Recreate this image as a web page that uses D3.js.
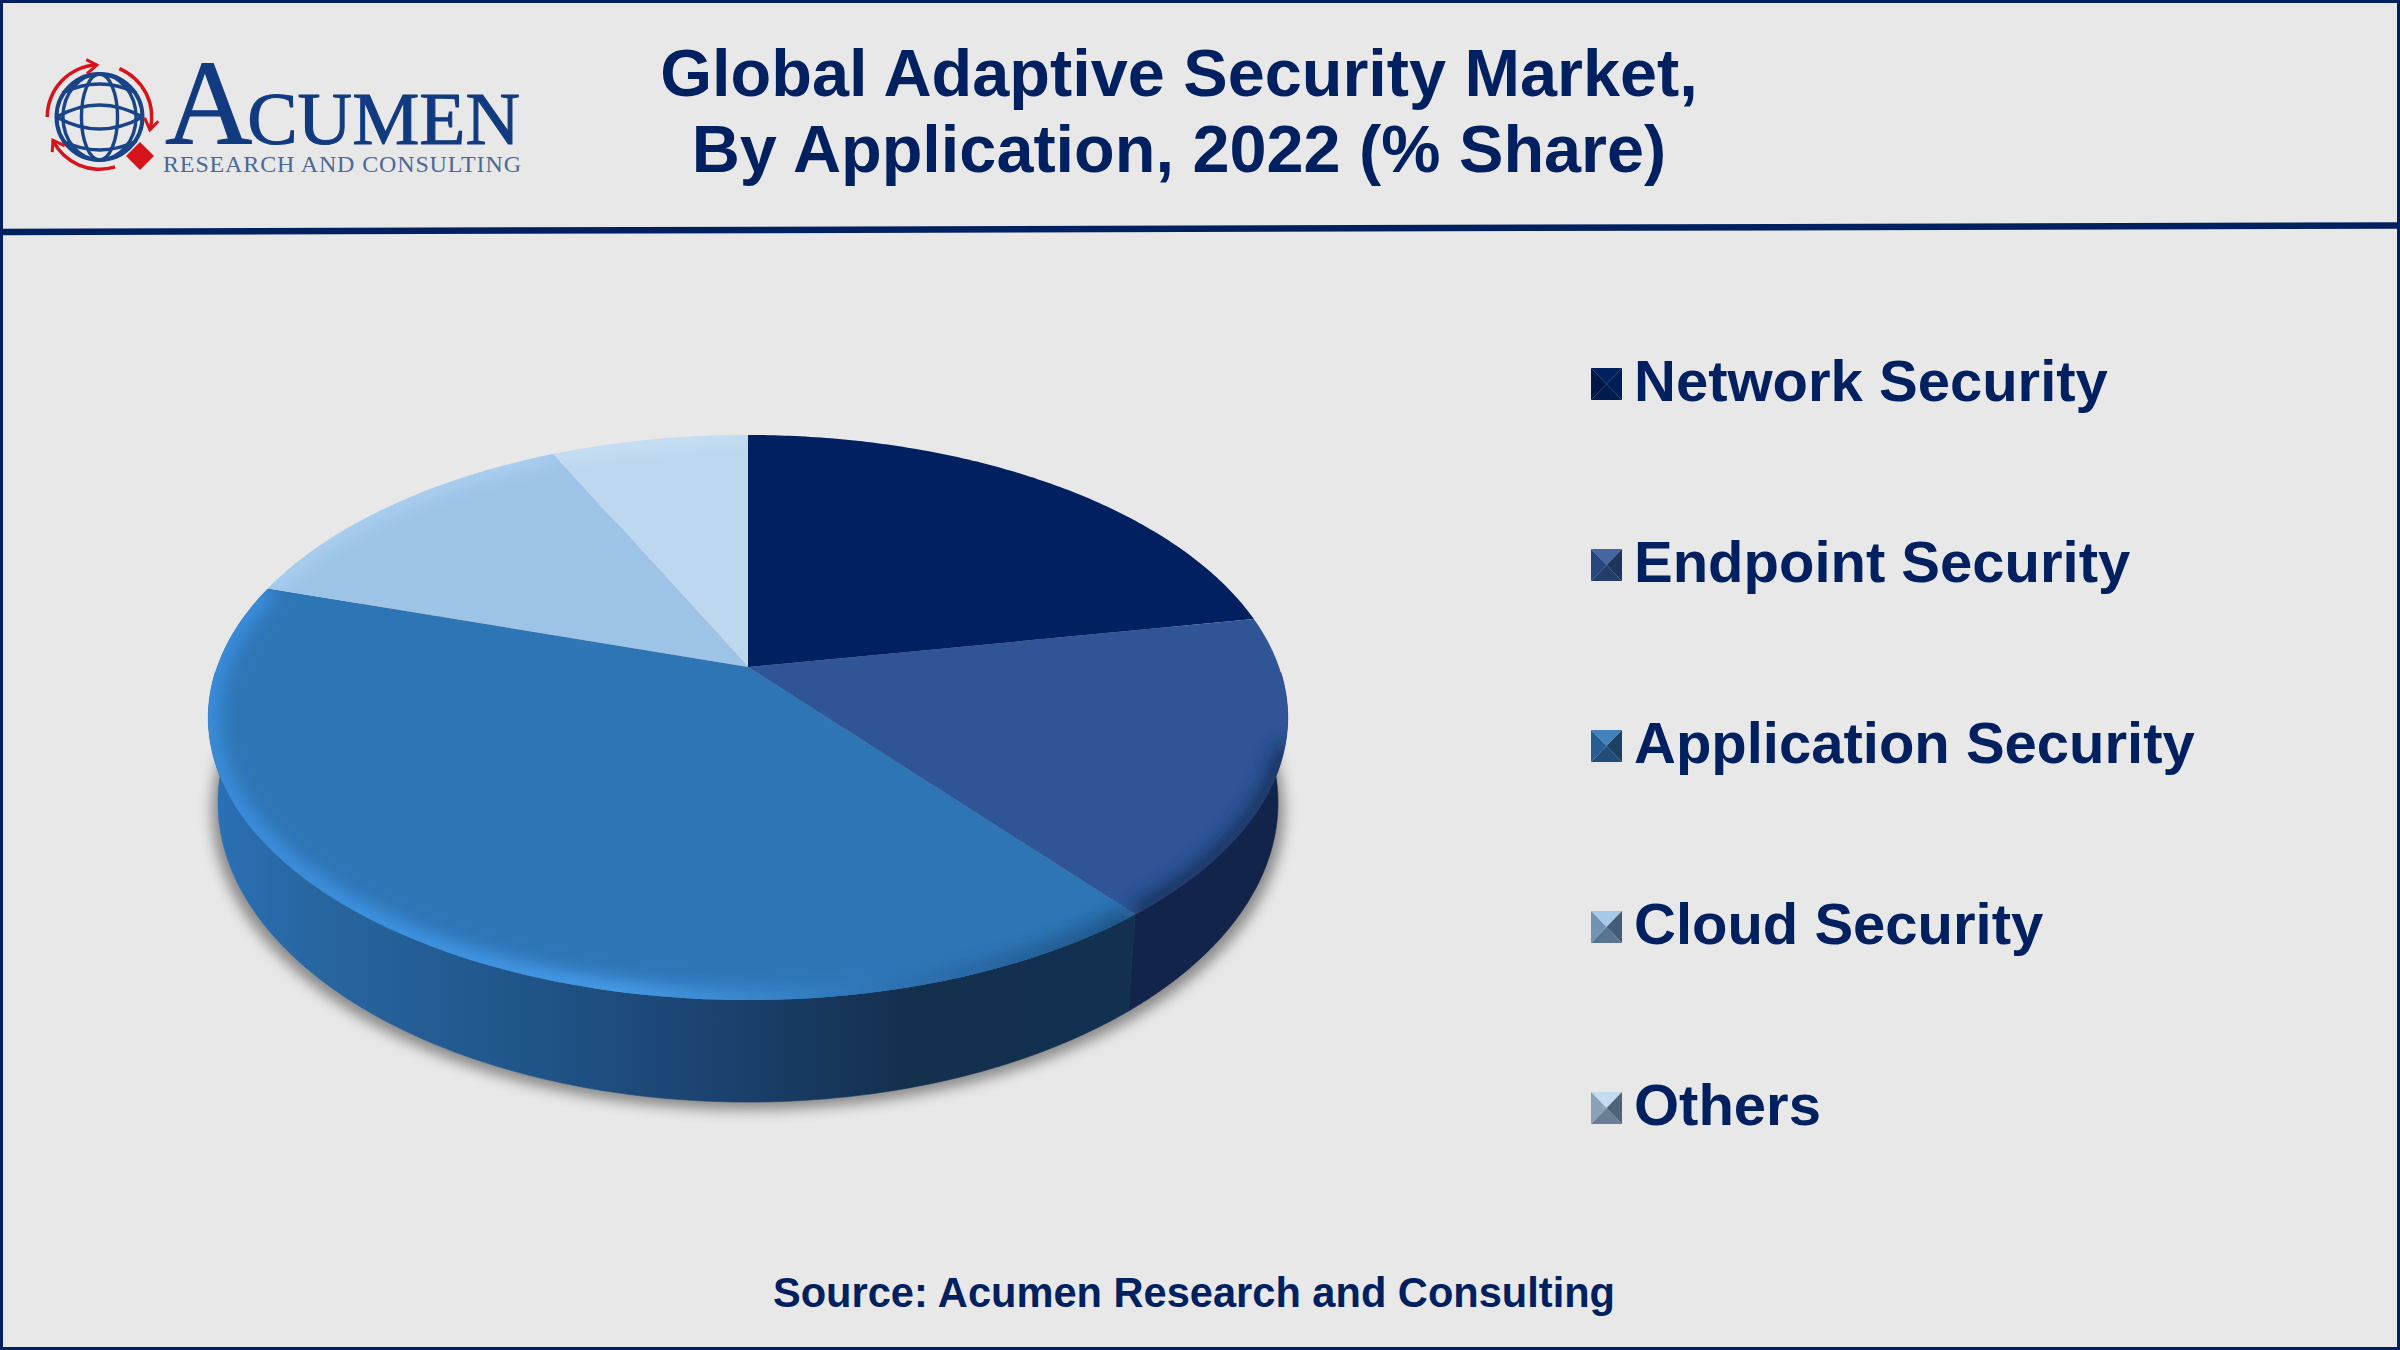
<!DOCTYPE html>
<html><head><meta charset="utf-8">
<script src="https://cdn.jsdelivr.net/npm/d3@7"></script>
<style>html,body{margin:0;padding:0;background:#e8e8e8}svg{display:block}text{font-family:"Liberation Sans",Arial,sans-serif}</style>
</head><body><svg id="c" width="2400" height="1350"></svg>
<script>
const categories = ["Network Security","Endpoint Security","Application Security","Cloud Security","Others"];
const shares = [22.1, 17.1, 40.7, 13.1, 7.0];
const titleLines = ["Global Adaptive Security Market,","By Application, 2022 (% Share)"];
const sourceText = "Source: Acumen Research and Consulting";
const topColors = ["#002060","#2f5597","#2e75b6","#9dc3e6","#bdd7ee"];
const rimColors = ["none","#16305f","#3a8fdf","#b5d8f8","#cfe5f8"];
const navy = "#002060";

const svg = d3.select("#c");
const defs = svg.append("defs");
svg.append("rect").attr("width",2400).attr("height",1350).attr("fill","#e8e8e8");

// frame + header rule
svg.append("rect").attr("x",1.5).attr("y",1.5).attr("width",2397).attr("height",1347).attr("fill","none").attr("stroke",navy).attr("stroke-width",3);
svg.append("line").attr("x1",0).attr("y1",232).attr("x2",2400).attr("y2",225.5).attr("stroke",navy).attr("stroke-width",6.5);

// perspective model of the disc
const cx=748, cy=667, R=531, A=273.5, k=0.1788, shrink=0.982, stretch=1.06, drop=42;
const topPt = t => { const u=Math.sin(t), v=-Math.cos(t), w=1-k*v; return [cx+R*u/w, cy+A*v/w]; };
const botPt = t => { const p=topPt(t); return [cx+(p[0]-cx)*shrink, p[1]*stretch+drop]; };
const line = d3.line();
const steps=(a,b)=>d3.range(0,121).map(i=>d3.interpolateNumber(a,b)(i/120));

const arcs = d3.pie().sort(null).value(d=>d)(shares);

// filters
const blur=(id,s)=>defs.append("filter").attr("id",id).attr("filterUnits","userSpaceOnUse").attr("x",0).attr("y",0).attr("width",2400).attr("height",1350).append("feGaussianBlur").attr("stdDeviation",s);
blur("bShadow",6.5); blur("bRim",9);

// shadow
svg.append("path").attr("d",line(steps(0,2*Math.PI).map(t=>{const q=botPt(t);return [cx+(q[0]-cx)*1.012,q[1]+8];}))+"Z")
  .attr("fill","#3f3f3f").attr("opacity",.55).attr("filter","url(#bShadow)");

// side walls
const sg=defs.append("linearGradient").attr("id","sideApp").attr("gradientUnits","userSpaceOnUse").attr("x1",215).attr("x2",1130).attr("y1",0).attr("y2",0);
[[0,"#2a70b5"],[.12,"#27659f"],[.35,"#205488"],[.55,"#1b426f"],[.75,"#14304f"],[1,"#12304f"]].forEach(s=>sg.append("stop").attr("offset",s[0]).attr("stop-color",s[1]));
const sideFill=["#12244a","#12244a","url(#sideApp)","#2a70b5","#2a70b5"];
const tanR=Math.PI/2+0.02, tanL=2*Math.PI-tanR; // widest points of the rim
arcs.forEach((d,i)=>{
  const a=Math.max(d.startAngle,tanR), b=Math.min(d.endAngle,tanL);
  if(b<=a) return;
  const s=steps(a,b);
  svg.append("path").attr("d",line(s.map(topPt).concat(s.slice().reverse().map(botPt)))+"Z")
    .attr("fill",sideFill[i]).attr("stroke",sideFill[i]).attr("stroke-width",.6);
});

// top slices
arcs.forEach((d,i)=>{
  const s=steps(d.startAngle,d.endAngle);
  const pts=[[cx,cy]].concat(s.map(topPt));
  const dPath=line(pts)+"Z";
  defs.append("clipPath").attr("id","clip"+i).append("path").attr("d",dPath);
  svg.append("path").attr("d",dPath).attr("fill",topColors[i]);
  const g=svg.append("g").attr("clip-path",`url(#clip${i})`);
  let stroke=rimColors[i];
  if(i===2){
    const rg=defs.append("linearGradient").attr("id","rimApp").attr("gradientUnits","userSpaceOnUse").attr("x1",215).attr("x2",1130).attr("y1",0).attr("y2",0);
    [[0,"#3a8fdf"],[.45,"#48a0ee"],[.72,"#2e75b6"],[1,"#1c4f80"]].forEach(q=>rg.append("stop").attr("offset",q[0]).attr("stop-color",q[1]));
    stroke="url(#rimApp)";
  }
  const rimArc = i===1 ? steps(Math.max(d.startAngle,1.85),d.endAngle) : s;
  g.append("path").attr("d",line(rimArc.map(topPt))).attr("fill","none").attr("stroke",stroke).attr("stroke-width",i<2?20:(i===2?22:10)).attr("filter","url(#bRim)");
});

// legend with bevelled swatches
const legendY=d3.scalePoint().domain(categories).range([384,1108]);
const lighten=(c,t)=>d3.interpolateRgb(c,"#ffffff")(t), darken=(c,t)=>d3.interpolateRgb(c,"#15243a")(t);
categories.forEach((c,i)=>{
  const y=legendY(c), x0=1591, w=31, h=32, y0=y-h/2;
  const col=topColors[i];
  const corners=[[x0,y0],[x0+w,y0],[x0+w,y0+h],[x0,y0+h]], mid=[x0+w/2,y0+h/2];
  const faces=[lighten(col,.1), darken(col,.65), darken(col,.5), darken(col,.3)];
  const gs=svg.append("g");
  corners.forEach((p,j)=>gs.append("path").attr("d",line([p,corners[(j+1)%4],mid])+"Z").attr("fill",i===0?d3.interpolateRgb(col,"#000c2a")(j/6):faces[j]));
  svg.append("text").attr("x",1634).attr("y",y+17).attr("font-size",58).attr("font-weight",700).attr("fill",navy).text(c);
});

// title + source
svg.selectAll("text.t").data(titleLines).join("text").attr("class","t").attr("x",1179).attr("y",(d,i)=>96+i*76)
  .attr("text-anchor","middle").attr("font-size",66.6).attr("font-weight",700).attr("fill",navy).text(d=>d);
svg.append("text").attr("x",1194).attr("y",1307).attr("text-anchor","middle").attr("font-size",41.6).attr("font-weight",700).attr("fill",navy).text(sourceText);

// logo
const logo=svg.append("g");
const gx=99.5, gy=117, gr=43, logoBlue="#1a4488", red="#d5141c";
const ring=logo.append("g").attr("fill","none").attr("stroke",logoBlue).attr("stroke-width",3.4);
ring.append("circle").attr("cx",gx).attr("cy",gy).attr("r",gr).attr("stroke-width",4);
[0.42,0.85].forEach(f=>ring.append("ellipse").attr("cx",gx).attr("cy",gy).attr("rx",gr*f).attr("ry",gr));
[[-1,-24],[-1,24]].forEach(q=>ring.append("path").attr("d",`M${gx-gr} ${gy} Q${gx} ${gy+q[1]} ${gx+gr} ${gy}`));
ring.append("path").attr("d",`M${gx-gr+6} ${gy-24} Q${gx} ${gy-42} ${gx+gr-6} ${gy-24}`);
ring.append("path").attr("d",`M${gx-gr+6} ${gy+24} Q${gx} ${gy+42} ${gx+gr-6} ${gy+24}`);
const redArc=d3.arc().innerRadius(50.5).outerRadius(54);
[[-1.57,-0.05],[0.39,1.82],[2.84,4.25]].forEach(a=>{
  logo.append("path").attr("transform",`translate(${gx},${gy})`).attr("fill",red).attr("d",redArc({startAngle:a[0],endAngle:a[1]}));
  const e=a[1], ex=gx+52*Math.sin(e), ey=gy-52*Math.cos(e);
  const bx=gx+52*Math.sin(e-0.2), by=gy-52*Math.cos(e-0.2);
  const nx=Math.sin(e), ny=-Math.cos(e);
  logo.append("path").attr("fill","none").attr("stroke",red).attr("stroke-width",3)
    .attr("d",line([[bx+nx*7,by+ny*7],[ex,ey],[bx-nx*7,by-ny*7]]));
});
logo.append("path").attr("fill",red).attr("d",line([[140,142],[154,156],[140,170],[126,156]])+"Z");
const serif='"Liberation Serif","Times New Roman",serif';
const word=logo.append("text").attr("x",165).attr("y",144).attr("fill","#123a80").attr("stroke","#123a80").attr("stroke-width",1).style("font-family",serif).attr("textLength",355).attr("lengthAdjust","spacingAndGlyphs");
word.append("tspan").attr("font-size",120).text("A");
word.append("tspan").attr("font-size",75).attr("dx",-5).text("CUMEN");
logo.append("text").attr("x",163).attr("y",172).attr("font-size",24).attr("fill","#4a6898").style("font-family",serif).attr("textLength",358).attr("lengthAdjust","spacing").text("RESEARCH AND CONSULTING");
</script></body></html>
